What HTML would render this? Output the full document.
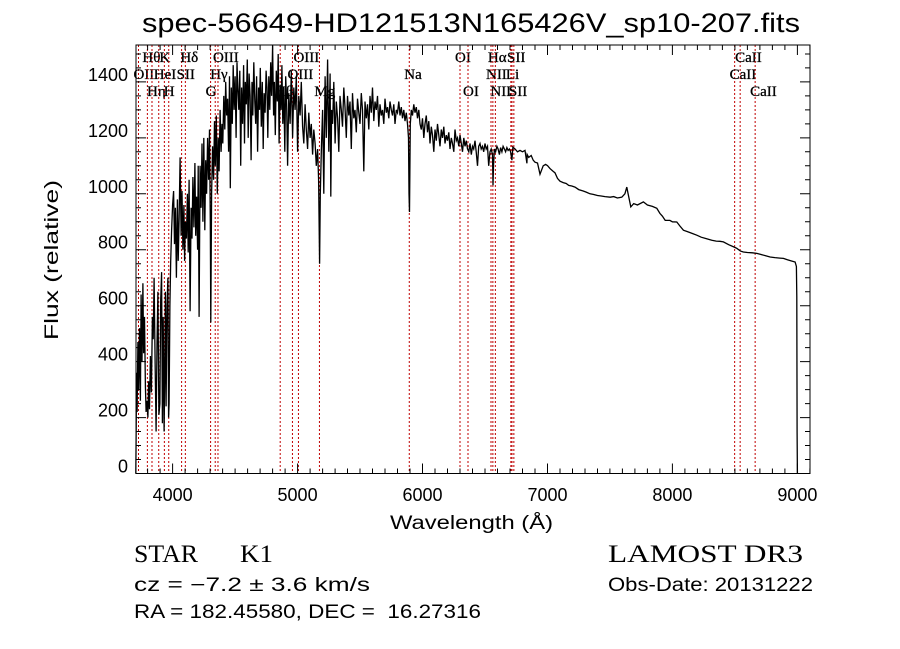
<!DOCTYPE html>
<html><head><meta charset="utf-8"><style>
html,body{margin:0;padding:0;background:#fff;}
svg{display:block;font-family:"Liberation Sans",sans-serif;}
</style></head><body>
<svg id="chart" width="900" height="649" viewBox="0 0 900 649" xmlns="http://www.w3.org/2000/svg">
<rect width="900" height="649" fill="#fff"/>
<text x="142" y="32" font-size="27" textLength="658" lengthAdjust="spacingAndGlyphs">spec-56649-HD121513N165426V_sp10-207.fits</text>
<g id="lines"></g>
<g id="series"></g>
<g id="axes"></g>
<text x="390" y="529" font-size="19" textLength="163" lengthAdjust="spacingAndGlyphs">Wavelength (Å)</text>
<text transform="translate(58,340) rotate(-90)" font-size="19" textLength="160" lengthAdjust="spacingAndGlyphs">Flux (relative)</text>
<text x="134" y="562" font-size="25" font-family="Liberation Serif" textLength="64" lengthAdjust="spacingAndGlyphs">STAR</text>
<text x="240" y="562" font-size="25" font-family="Liberation Serif" textLength="33" lengthAdjust="spacingAndGlyphs">K1</text>
<text x="134" y="591" font-size="19" textLength="236" lengthAdjust="spacingAndGlyphs">cz = −7.2 ± 3.6 km/s</text>
<text x="134" y="618" font-size="19" textLength="347" lengthAdjust="spacingAndGlyphs" xml:space="preserve">RA = 182.45580, DEC =  16.27316</text>
<text x="608" y="562" font-size="25" font-family="Liberation Serif" textLength="195" lengthAdjust="spacingAndGlyphs">LAMOST DR3</text>
<text x="608" y="591" font-size="19" textLength="205" lengthAdjust="spacingAndGlyphs">Obs-Date: 20131222</text>
</svg>
<script>
const spectrum = [
[3705,0],[3708,120],[3712,360],[3716,220],[3722,470],[3728,300],[3735,520],[3742,260],[3748,640],[3755,400],
[3762,680],[3768,430],[3775,560],[3782,310],[3788,220],[3795,260],[3802,200],[3808,330],[3815,230],[3822,420],
[3830,290],[3838,560],[3845,480],[3852,700],[3860,400],[3868,150],[3875,460],[3882,650],[3890,210],[3898,250],
[3905,620],[3912,720],[3918,180],[3925,560],[3932,150],[3936,300],[3942,650],[3948,240],[3955,600],[3962,700],
[3968,200],[3972,250],[3978,600],[3985,760],[3992,870],[4000,960],[4008,1010],[4015,820],[4022,950],[4030,700],
[4038,980],[4045,760],[4052,910],[4060,1130],[4068,850],[4075,1010],[4082,800],[4090,960],[4096,760],[4102,900],
[4110,840],[4118,1000],[4125,790],[4132,1050],[4140,580],[4148,950],[4155,840],[4162,1060],[4170,880],[4178,1110],
[4185,850],[4192,990],[4200,800],[4205,1100],[4212,560],[4220,1100],[4228,950],[4235,1180],[4242,900],[4250,1200],
[4258,870],[4265,1120],[4272,1000],[4280,1200],[4288,1050],[4295,1230],[4302,900],[4306,540],[4312,1000],[4320,1170],
[4328,1050],[4335,1260],[4342,1100],[4350,1280],[4358,1000],[4365,1200],[4372,1080],[4380,1300],[4388,1150],[4395,1250],
[4402,1180],[4410,1350],[4418,1230],[4425,1400],[4432,1280],[4440,1340],[4448,1150],[4455,1420],[4462,1020],[4470,1380],
[4478,1250],[4485,1460],[4492,1300],[4500,1420],[4508,1200],[4515,1470],[4522,1380],[4530,1300],[4538,1440],[4545,1100],
[4552,1380],[4560,1250],[4568,1460],[4575,1180],[4582,1400],[4590,1320],[4598,1480],[4605,1200],[4612,1430],[4620,1350],
[4628,1120],[4635,1400],[4642,1280],[4650,1470],[4658,1330],[4665,1250],[4672,1420],[4680,1150],[4688,1380],[4695,1300],
[4702,1450],[4710,1240],[4718,1400],[4725,1160],[4732,1360],[4740,1290],[4748,1440],[4755,1380],[4762,1200],[4770,1420],
[4778,1300],[4785,1470],[4792,1350],[4800,1530],[4808,1280],[4815,1400],[4822,1210],[4830,1440],[4838,1330],[4845,1500],
[4852,1180],[4860,1390],[4868,1300],[4875,1460],[4882,1250],[4890,1380],[4898,1150],[4905,1420],[4912,1330],[4920,1100],
[4930,1360],[4940,1250],[4950,1440],[4960,1200],[4970,1380],[4980,1300],[4990,1420],[5000,1150],[5010,1350],[5020,1280],
[5030,1400],[5040,1240],[5050,1180],[5060,1320],[5070,1230],[5080,1160],[5090,1290],[5100,1200],[5110,1250],[5120,1140],
[5130,1230],[5140,1180],[5150,1100],[5160,1160],[5168,1050],[5172,900],[5176,750],[5182,1000],[5190,1150],[5200,1300],
[5210,1000],[5220,1420],[5230,1200],[5240,1480],[5250,1150],[5260,1430],[5266,990],[5272,1300],[5280,1250],[5290,1400],
[5300,1180],[5310,1330],[5320,1270],[5330,1150],[5340,1350],[5350,1300],[5360,1240],[5370,1380],[5380,1310],[5390,1200],
[5400,1350],[5410,1280],[5420,1330],[5430,1160],[5440,1360],[5450,1270],[5460,1300],[5470,1220],[5480,1340],[5490,1290],
[5500,1250],[5510,1360],[5520,1300],[5530,1080],[5540,1330],[5550,1270],[5560,1320],[5570,1230],[5580,1350],[5590,1290],
[5600,1380],[5610,1260],[5620,1330],[5630,1300],[5640,1350],[5650,1240],[5660,1320],[5670,1280],[5680,1300],[5690,1250],
[5700,1340],[5710,1290],[5720,1310],[5730,1270],[5740,1330],[5750,1300],[5760,1280],[5770,1320],[5780,1250],[5790,1300],
[5800,1290],[5810,1330],[5820,1280],[5830,1310],[5840,1270],[5850,1300],[5860,1260],[5870,1290],[5880,1250],[5888,1200],
[5892,1000],[5896,935],[5902,1250],[5910,1300],[5920,1280],[5930,1320],[5940,1290],[5950,1310],[5960,1270],[5970,1300],
[5980,1250],[5990,1230],[6000,1270],[6010,1200],[6020,1250],[6030,1280],[6040,1220],[6050,1260],[6060,1180],[6070,1240],
[6080,1210],[6090,1150],[6100,1230],[6110,1190],[6120,1250],[6130,1210],[6140,1170],[6150,1230],[6160,1200],[6170,1240],
[6180,1180],[6190,1210],[6200,1190],[6210,1220],[6220,1160],[6230,1200],[6240,1180],[6250,1150],[6260,1230],[6270,1190],
[6280,1200],[6290,1170],[6300,1210],[6310,1180],[6320,1150],[6330,1200],[6340,1170],[6350,1190],[6360,1160],[6370,1150],
[6380,1180],[6390,1140],[6400,1170],[6410,1160],[6420,1190],[6430,1150],[6440,1100],[6450,1170],[6460,1180],[6470,1160],
[6480,1170],[6490,1150],[6500,1180],[6510,1160],[6520,1170],[6530,1100],[6540,1150],[6550,1160],[6560,1140],[6564,1030],
[6568,1100],[6575,1160],[6585,1150],[6595,1170],[6605,1160],[6615,1140],[6625,1165],[6635,1150],[6645,1170],[6655,1160],
[6665,1150],[6675,1165],[6685,1155],[6695,1160],[6705,1150],[6715,1120],[6723,1167],[6740,1160],[6760,1150],[6780,1155],
[6800,1150],[6820,1155],[6835,1109],[6838,1140],[6850,1130],[6870,1137],[6886,1120],[6900,1113],[6920,1110],[6940,1070],
[6966,1100],[6985,1105],[7000,1101],[7020,1090],[7046,1080],[7060,1075],[7080,1055],[7100,1045],[7126,1040],[7150,1037],
[7170,1030],[7195,1028],[7220,1024],[7250,1015],[7286,1010],[7310,1006],[7340,1000],[7366,998],[7400,994],[7430,992],
[7460,990],[7502,988],[7530,990],[7560,985],[7595,988],[7620,1000],[7635,1024],[7645,1000],[7667,953],[7690,965],
[7720,960],[7768,971],[7800,960],[7840,955],[7875,948],[7900,930],[7920,920],[7942,905],[7980,905],[8000,900],
[8035,899],[8060,885],[8088,870],[8120,865],[8160,858],[8195,852],[8230,845],[8270,840],[8315,834],[8350,831],
[8380,830],[8408,828],[8450,818],[8490,810],[8515,805],[8545,795],[8568,792],[8600,790],[8640,789],[8675,787],
[8710,783],[8750,778],[8782,774],[8820,772],[8860,770],[8888,769],[8920,764],[8950,760],[8982,756],[8992,740],
[8995,631],[8998,145],[9000,0]
];
const wave = spectrum.map(p=>p[0]);
const flux = spectrum.map(p=>p[1]);
const lineWave = [3727,3798,3835,3889,3934,3969,4072,4102,4304,4341,4363,4861,4959,5007,5175,5894,6300,6364,6548,6563,6583,6707,6716,6731,8498,8542,8662];
const lineName = ["OII","Hθ","Hη","HeI","K","H","SII","Hδ","G","Hγ","OIII","Hβ","OIII","OIII","Mg","Na","OI","OI","NII","Hα","NII","Li","SII","SII","CaII","CaII","CaII"];
const lineRow = [1,0,2,1,0,2,1,0,2,1,0,2,1,0,2,1,0,2,1,0,2,1,0,2,1,0,2];
const xTicks = [4000,5000,6000,7000,8000,9000];
const yTicks = [0,200,400,600,800,1000,1200,1400];

const L=136,R=810,T=45,B=473.5;
const X0=3707,X1=9101,Y0=0,Y1=1532;
const sx=v=>L+(v-X0)/(X1-X0)*(R-L);
const sy=v=>B-(v-Y0)/(Y1-Y0)*(B-T);
const NS='http://www.w3.org/2000/svg';
function mk(tag,parent){const e=document.createElementNS(NS,tag);parent.appendChild(e);return e;}

const gl=document.getElementById('lines');
const rowY=[57,74,91];
lineWave.forEach((w,i)=>{
  const ln=mk('line',gl);
  
  
  ln.setAttribute('x1',sx(w));ln.setAttribute('x2',sx(w));
  ln.setAttribute('y1',T);ln.setAttribute('y2',B);
  ln.setAttribute('stroke','#c00000');ln.setAttribute('stroke-width','1');
  ln.setAttribute('stroke-dasharray','2,2');
  const t=mk('text',gl);
  
  
  t.setAttribute('x',sx(w)-5);t.setAttribute('y',rowY[lineRow[i]]+5);
  t.setAttribute('font-size','15');t.setAttribute('font-family','Liberation Serif, serif');
  t.setAttribute('stroke','#000');t.setAttribute('stroke-width','0.3');
  t.textContent=lineName[i];
});

const gs=document.getElementById('series');
const p=mk('path',gs);


p.setAttribute('d',wave.map((w,i)=>(i?'L':'M')+sx(w).toFixed(1)+','+sy(flux[i]).toFixed(1)).join(''));
p.setAttribute('fill','none');p.setAttribute('stroke','#000');p.setAttribute('stroke-width','1.3');

const ga=document.getElementById('axes');
const fr=mk('rect',ga);


fr.setAttribute('x',L);fr.setAttribute('y',T);fr.setAttribute('width',R-L);fr.setAttribute('height',B-T);
fr.setAttribute('fill','none');fr.setAttribute('stroke','#000');fr.setAttribute('stroke-width','1');
let d='';
for(let v=3800;v<=X1;v+=100){const x=sx(v).toFixed(1);const len=(v%1000===0)?10:5;d+=`M${x},${B}v${-len}M${x},${T}v${len}`;}
for(let v=50;v<=Y1;v+=50){const y=sy(v).toFixed(1);const len=(v%200===0)?10:5;d+=`M${L},${y}h${len}M${R},${y}h${-len}`;}
const tk=mk('path',ga);


tk.setAttribute('d',d);tk.setAttribute('stroke','#000');tk.setAttribute('stroke-width','1');
xTicks.forEach(v=>{
  const t=mk('text',ga);
  
  
  t.setAttribute('x',sx(v));t.setAttribute('y',501);t.setAttribute('text-anchor','middle');
  t.setAttribute('font-size','18');t.textContent=v;
});
yTicks.forEach(v=>{
  const t=mk('text',ga);
  
  
  t.setAttribute('x',128);t.setAttribute('y',sy(v)-1);t.setAttribute('text-anchor','end');
  t.setAttribute('font-size','18');t.textContent=v;
});
</script>
</body></html>
